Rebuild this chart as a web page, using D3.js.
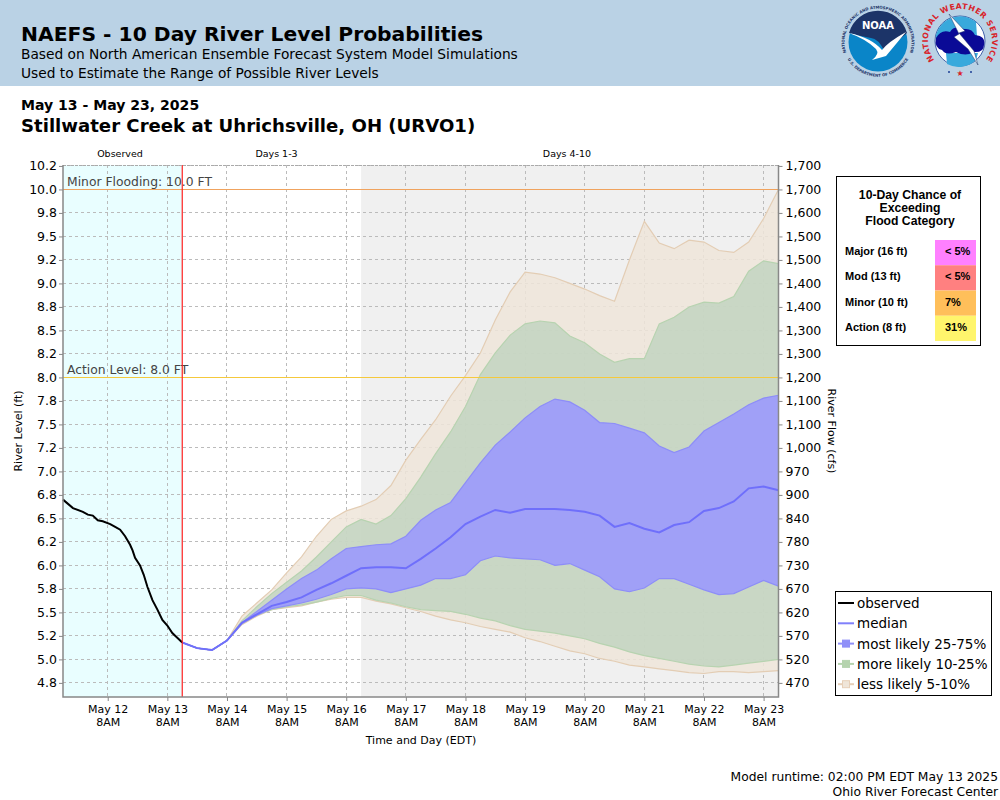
<!DOCTYPE html>
<html>
<head>
<meta charset="utf-8">
<script src="https://cdn.jsdelivr.net/npm/d3@7"></script>
<style>
    html, body { margin: 0; padding: 0; background: #fff; }
    svg { display: block; }
    text { font-family: "DejaVu Sans", sans-serif; fill: #000; }
    .arial text, text.arial { font-family: "Liberation Sans", sans-serif; font-weight: bold; }
    .domain { display: none; }
</style>
</head>
<body>
<svg id="chart" width="1000" height="800"></svg>
<script>
// level ticks every quarter foot, the labels are rounded the way the original prints them
const levelTicks = [10.25, 10, 9.75, 9.5, 9.25, 9, 8.75, 8.5, 8.25, 8, 7.75, 7.5, 7.25, 7, 6.75, 6.5, 6.25, 6, 5.75, 5.5, 5.25, 5, 4.75];
const levelLabels = ["10.2", "10.0", "9.8", "9.5", "9.2", "9.0", "8.8", "8.5", "8.2", "8.0", "7.8", "7.5", "7.2", "7.0", "6.8", "6.5", "6.2", "6.0", "5.8", "5.5", "5.2", "5.0", "4.8"];
const flowLabels = ["1,700", "1,700", "1,600", "1,500", "1,500", "1,400", "1,400", "1,300", "1,300", "1,200", "1,100", "1,100", "1,000", "970", "900", "840", "780", "730", "670", "620", "570", "520", "470"];
const dayLabels = ["May 12", "May 13", "May 14", "May 15", "May 16", "May 17", "May 18", "May 19", "May 20", "May 21", "May 22", "May 23"];

// observed: hours after May 11 14:00
const observedHours = [0, 4, 8, 10, 12, 14, 16, 19, 21, 23, 25, 27, 28, 29, 31, 32.5, 34, 36, 38, 40, 42, 44, 46, 48];
const observedLevels = [6.70, 6.61, 6.57, 6.54, 6.53, 6.48, 6.47, 6.44, 6.41, 6.38, 6.31, 6.22, 6.16, 6.08, 6.00, 5.90, 5.77, 5.63, 5.53, 5.42, 5.36, 5.28, 5.23, 5.18];

// forecast: one value every 6 hours from May 13 14:00
const median = [5.18, 5.12, 5.10, 5.20, 5.39, 5.48, 5.57, 5.61, 5.66, 5.74, 5.81, 5.89, 5.97, 5.98, 5.98, 5.97, 6.07, 6.18, 6.30, 6.44, 6.52, 6.59, 6.56, 6.60, 6.60, 6.60, 6.59, 6.57, 6.53, 6.41, 6.45, 6.39, 6.35, 6.43, 6.46, 6.58, 6.61, 6.68, 6.82, 6.84, 6.80];
const p25 = [5.18, 5.12, 5.10, 5.20, 5.38, 5.47, 5.54, 5.57, 5.60, 5.64, 5.69, 5.75, 5.76, 5.75, 5.71, 5.75, 5.79, 5.86, 5.86, 5.90, 6.05, 6.10, 6.08, 6.07, 6.06, 6.00, 6.02, 5.95, 5.88, 5.75, 5.72, 5.76, 5.86, 5.86, 5.80, 5.74, 5.69, 5.70, 5.77, 5.84, 5.78];
const p75 = [5.18, 5.12, 5.10, 5.20, 5.39, 5.51, 5.63, 5.75, 5.86, 5.95, 6.07, 6.18, 6.20, 6.22, 6.23, 6.31, 6.48, 6.59, 6.67, 6.88, 7.09, 7.28, 7.42, 7.57, 7.69, 7.77, 7.74, 7.65, 7.52, 7.51, 7.46, 7.41, 7.27, 7.20, 7.26, 7.43, 7.52, 7.61, 7.71, 7.78, 7.81];
const p10 = [5.18, 5.12, 5.10, 5.20, 5.38, 5.47, 5.53, 5.56, 5.58, 5.61, 5.65, 5.68, 5.68, 5.63, 5.60, 5.56, 5.53, 5.52, 5.51, 5.48, 5.44, 5.41, 5.36, 5.32, 5.30, 5.28, 5.25, 5.22, 5.17, 5.13, 5.08, 5.04, 5.01, 4.98, 4.95, 4.93, 4.92, 4.94, 4.96, 4.98, 5.00];
const p90 = [5.18, 5.12, 5.10, 5.20, 5.41, 5.56, 5.70, 5.82, 5.94, 6.09, 6.25, 6.41, 6.49, 6.44, 6.53, 6.71, 6.94, 7.19, 7.42, 7.69, 8.03, 8.26, 8.45, 8.57, 8.60, 8.58, 8.44, 8.37, 8.25, 8.16, 8.20, 8.20, 8.57, 8.64, 8.75, 8.80, 8.79, 8.86, 9.13, 9.24, 9.21];
const p5 = [5.18, 5.12, 5.10, 5.20, 5.37, 5.46, 5.53, 5.55, 5.57, 5.61, 5.64, 5.66, 5.66, 5.62, 5.59, 5.55, 5.51, 5.46, 5.42, 5.39, 5.35, 5.32, 5.29, 5.23, 5.19, 5.14, 5.09, 5.06, 5.01, 4.98, 4.94, 4.92, 4.90, 4.88, 4.86, 4.85, 4.87, 4.87, 4.86, 4.87, 4.88];
const p95 = [5.18, 5.12, 5.10, 5.20, 5.46, 5.60, 5.74, 5.92, 6.09, 6.31, 6.49, 6.58, 6.63, 6.70, 6.85, 7.12, 7.34, 7.55, 7.80, 8.02, 8.26, 8.61, 8.91, 9.12, 9.10, 9.06, 9.00, 8.94, 8.87, 8.81, 9.25, 9.66, 9.43, 9.37, 9.46, 9.44, 9.35, 9.33, 9.44, 9.69, 10.00];

const chanceRows = ["Major (16 ft)", "Mod (13 ft)", "Minor (10 ft)", "Action (8 ft)"];
const chanceValues = ["< 5%", "< 5%", "7%", "31%"];
const chanceColors = ["#ff80ff", "#ff8080", "#ffbf5a", "#fff56c"];

const svg = d3.select("#chart");

const plotLeft = 63, plotRight = 778.5, plotTop = 165, plotBottom = 697;
const startTime = new Date(Date.UTC(2025, 4, 11, 14));
const nowTime = new Date(Date.UTC(2025, 4, 13, 14));
const endTime = new Date(Date.UTC(2025, 4, 23, 14));
const day4Time = new Date(Date.UTC(2025, 4, 16, 14));

const x = d3.scaleUtc().domain([startTime, endTime]).range([plotLeft, plotRight]);
const y = d3.scaleLinear().domain([4.6, 10.26]).range([plotBottom, plotTop]);

// keep one pixel lines sharp
const crisp = v => Math.floor(v) + 0.5;

const forecastTimes = median.map((d, i) => d3.utcHour.offset(nowTime, i * 6));
const observedTimes = observedHours.map(h => d3.utcMinute.offset(startTime, h * 60));
const dayTicks = dayLabels.map((d, i) => new Date(Date.UTC(2025, 4, 12 + i, 8)));

// header
svg.append("rect").attr("width", 1000).attr("height", 86).attr("fill", "#bad2e5");
svg.append("text").attr("x", 21).attr("y", 41).attr("font-size", 20.3).attr("font-weight", "bold").text("NAEFS - 10 Day River Level Probabilities");
svg.append("text").attr("x", 21).attr("y", 59).attr("font-size", 13.75).text("Based on North American Ensemble Forecast System Model Simulations");
svg.append("text").attr("x", 21).attr("y", 78).attr("font-size", 13.75).text("Used to Estimate the Range of Possible River Levels");
svg.append("text").attr("x", 21).attr("y", 110).attr("font-size", 14.05).attr("font-weight", "bold").text("May 13 - May 23, 2025");
svg.append("text").attr("x", 21).attr("y", 132).attr("font-size", 18.1).attr("font-weight", "bold").text("Stillwater Creek at Uhrichsville, OH (URVO1)");

drawNoaa(878, 42);
drawNws(960, 41);

// plot backgrounds
svg.append("rect").attr("x", plotLeft).attr("y", plotTop).attr("width", x(nowTime) - plotLeft).attr("height", plotBottom - plotTop).attr("fill", "#e9feff");
svg.append("rect").attr("x", x(day4Time)).attr("y", plotTop).attr("width", plotRight - x(day4Time)).attr("height", plotBottom - plotTop).attr("fill", "#f0f0f0");

// grid
const grid = svg.append("g").attr("stroke", "#bbb").attr("stroke-dasharray", "3,3").attr("fill", "none");
grid.selectAll(".gy").data(levelTicks).join("line")
    .attr("x1", plotLeft).attr("x2", plotRight)
    .attr("y1", d => crisp(y(d))).attr("y2", d => crisp(y(d)));
grid.selectAll(".gx").data(dayTicks).join("line")
    .attr("x1", d => crisp(x(d))).attr("x2", d => crisp(x(d)))
    .attr("y1", plotTop).attr("y2", plotBottom);

// probability bands
const band = (lo, hi) => d3.area()
    .x((d, i) => x(forecastTimes[i]))
    .y0((d, i) => y(lo[i]))
    .y1((d, i) => y(hi[i]))(median);

const edge = (values) => d3.line()
    .x((d, i) => x(forecastTimes[i]))
    .y(d => y(d))(values);

const bands = [
    { lo: p5, hi: p95, fill: "#efe5d9", opacity: 0.85, stroke: "#e3cdb4" },
    { lo: p10, hi: p90, fill: "#b9d0ba", opacity: 0.7, stroke: "#b7d3b0" },
    { lo: p25, hi: p75, fill: "#9996ff", opacity: 0.85, stroke: "#8d8df8" }
];
bands.forEach(b => {
    svg.append("path").attr("d", band(b.lo, b.hi)).attr("fill", b.fill).attr("fill-opacity", b.opacity);
    svg.append("path").attr("d", edge(b.lo)).attr("fill", "none").attr("stroke", b.stroke).attr("stroke-width", 1.2);
    svg.append("path").attr("d", edge(b.hi)).attr("fill", "none").attr("stroke", b.stroke).attr("stroke-width", 1.2);
});

// flood levels
svg.append("line").attr("x1", plotLeft).attr("x2", plotRight).attr("y1", crisp(y(10))).attr("y2", crisp(y(10))).attr("stroke", "#f0a35e");
svg.append("line").attr("x1", plotLeft).attr("x2", plotRight).attr("y1", crisp(y(8))).attr("y2", crisp(y(8))).attr("stroke", "#f5c93c");
svg.append("text").attr("x", 67).attr("y", y(10) - 3).attr("font-size", 12.35).style("fill", "#444").text("Minor Flooding: 10.0 FT");
svg.append("text").attr("x", 67).attr("y", y(8) - 3).attr("font-size", 12.35).style("fill", "#444").text("Action Level: 8.0 FT");

// series lines
svg.append("path").attr("d", edge(median)).attr("fill", "none").attr("stroke", "#6f6ffb").attr("stroke-width", 2);
svg.append("path")
    .attr("d", d3.line().x((d, i) => x(observedTimes[i])).y(d => y(d))(observedLevels))
    .attr("fill", "none").attr("stroke", "#000").attr("stroke-width", 2);

// current time marker
svg.append("line").attr("x1", x(nowTime)).attr("x2", x(nowTime)).attr("y1", plotTop).attr("y2", plotBottom).attr("stroke", "#ff2020").attr("stroke-width", 1.2);

// axes
const axisLeft = d3.axisLeft(y).tickValues(levelTicks).tickSize(4).tickPadding(2).tickFormat((d, i) => levelLabels[i]);
const axisRight = d3.axisRight(y).tickValues(levelTicks).tickSize(4).tickPadding(3).tickFormat((d, i) => flowLabels[i]);
const axisBottom = d3.axisBottom(x).tickValues(dayTicks).tickSize(4).tickPadding(4).tickFormat((d, i) => dayLabels[i]);

const gl = svg.append("g").attr("transform", `translate(${plotLeft},0)`).call(axisLeft);
const gr = svg.append("g").attr("transform", `translate(${plotRight},0)`).call(axisRight);
const gb = svg.append("g").attr("transform", `translate(0,${plotBottom})`).call(axisBottom);
[gl, gr, gb].forEach(g => {
    g.attr("font-family", null);
    g.selectAll("text").attr("font-size", 12.5);
    g.selectAll("line").attr("stroke", "#888");
});
gb.selectAll("text").attr("font-size", 11);
gb.selectAll(".tick").append("text").attr("y", 21).attr("dy", "0.71em").attr("font-size", 11).attr("text-anchor", "middle").text("8AM");

// frame
svg.append("line").attr("x1", plotLeft).attr("x2", plotRight).attr("y1", plotTop + 0.5).attr("y2", plotTop + 0.5).attr("stroke", "#aaa").attr("stroke-dasharray", "3,1");
svg.append("path").attr("d", `M${plotLeft},${plotTop}V${plotBottom}H${plotRight}V${plotTop}`).attr("fill", "none").attr("stroke", "#888").attr("stroke-width", 1.5);

// period labels
svg.append("text").attr("x", 120).attr("y", 157).attr("font-size", 9.5).attr("text-anchor", "middle").text("Observed");
svg.append("text").attr("x", 276.5).attr("y", 157).attr("font-size", 9.5).attr("text-anchor", "middle").text("Days 1-3");
svg.append("text").attr("x", 567).attr("y", 157).attr("font-size", 9.5).attr("text-anchor", "middle").text("Days 4-10");

// axis titles
svg.append("text").attr("transform", "translate(22,431) rotate(-90)").attr("font-size", 11).attr("text-anchor", "middle").text("River Level (ft)");
svg.append("text").attr("transform", "translate(828,431) rotate(90)").attr("font-size", 11).attr("text-anchor", "middle").text("River Flow (cfs)");
svg.append("text").attr("x", 421).attr("y", 744).attr("font-size", 11).attr("text-anchor", "middle").text("Time and Day (EDT)");

// footer
svg.append("text").attr("x", 998).attr("y", 780.5).attr("font-size", 12.3).attr("text-anchor", "end").text("Model runtime: 02:00 PM EDT May 13 2025");
svg.append("text").attr("x", 998).attr("y", 795.5).attr("font-size", 12.3).attr("text-anchor", "end").text("Ohio River Forecast Center");

// chance table
const table = svg.append("g").attr("class", "arial");
table.append("rect").attr("x", 836.5).attr("y", 176.5).attr("width", 144).attr("height", 169).attr("fill", "#fff").attr("stroke", "#000");
["10-Day Chance of", "Exceeding", "Flood Category"].forEach((t, i) => {
    table.append("text").attr("x", 910).attr("y", 199 + i * 13).attr("font-size", 12.2).attr("text-anchor", "middle").text(t);
});
const rowY = d3.scaleBand().domain(chanceRows).range([240, 341]);
chanceRows.forEach((r, i) => {
    table.append("rect").attr("x", 935).attr("y", rowY(r)).attr("width", 41).attr("height", rowY.bandwidth()).attr("fill", chanceColors[i]);
    table.append("text").attr("x", 845).attr("y", rowY(r) + 15).attr("font-size", 11).text(r);
    table.append("text").attr("x", 945).attr("y", rowY(r) + 15).attr("font-size", 11).text(chanceValues[i]);
});

// legend
const legendRows = [
    { label: "observed", color: "#000", width: 2 },
    { label: "median", color: "#8080fb", width: 2 },
    { label: "most likely 25-75%", color: "#8f8ff8", width: 2, box: "#9090f8" },
    { label: "more likely 10-25%", color: "#b5d3ae", width: 2, box: "#b5d3ae" },
    { label: "less likely 5-10%", color: "#e6cfb8", width: 2, box: "#efe5d9" }
];
const legend = svg.append("g");
legend.append("rect").attr("x", 835.5).attr("y", 591.5).attr("width", 156).attr("height", 104).attr("fill", "#fff").attr("stroke", "#000");
legendRows.forEach((r, i) => {
    const ly = 603 + i * 20.3;
    legend.append("line").attr("x1", 838).attr("x2", 854).attr("y1", ly).attr("y2", ly).attr("stroke", r.color).attr("stroke-width", r.width);
    if (r.box) {
        legend.append("rect").attr("x", 842.5).attr("y", ly - 3.5).attr("width", 7).attr("height", 7).attr("fill", r.box).attr("stroke", r.color);
    }
    legend.append("text").attr("x", 857).attr("y", ly + 5).attr("font-size", 13.5).text(r.label);
});

function ringText(g, id, d, label, size, color, spacing) {
    g.append("path").attr("id", id).attr("d", d).attr("fill", "none");
    g.append("text").attr("font-size", size).attr("text-anchor", "middle").attr("font-weight", "bold").attr("letter-spacing", spacing).style("fill", color)
        .append("textPath").attr("href", "#" + id).attr("startOffset", "50%").text(label);
}

function drawNoaa(cx, cy) {
    const g = svg.append("g").attr("transform", `translate(${cx},${cy})`);
    g.append("circle").attr("r", 29.5).attr("fill", "#0a85c8");
    g.append("path").attr("d", "M-29,-9A30,30 0 0 1 29,-9L7,10Q0,-4 -7,-4Q-18,-6 -29,-9Z").attr("fill", "#1c3468");
    g.append("path").attr("d", "M-29,-9Q-12,-3 -2,7Q2,12 -6,18L8,14L28,-10Q10,0 4,8Q-6,-4 -29,-9Z").attr("fill", "#fff");
    g.append("text").attr("y", -13).attr("font-size", 10).attr("font-weight", "bold").attr("text-anchor", "middle").style("fill", "#fff").text("NOAA");
    ringText(g, "noaaTop", "M-32,10A33.5,33.5 0 1 1 32,10", "NATIONAL OCEANIC AND ATMOSPHERIC ADMINISTRATION", 3.9, "#1c3468", 0);
    ringText(g, "noaaBottom", "M-31,16A35,35 0 0 0 31,16", "U.S. DEPARTMENT OF COMMERCE", 3.9, "#1c3468", 0);
}

function drawNws(cx, cy) {
    const g = svg.append("g").attr("transform", `translate(${cx},${cy})`);
    g.append("circle").attr("r", 25).attr("fill", "#fff").attr("stroke", "#1c3f94").attr("stroke-width", 0.8);
    g.append("path").attr("d", "M-24,-6A25,25 0 0 1 16,-19L18,10L-24,0Z").attr("fill", "#39a9dc");
    g.append("path").attr("d", "M-13,23A25,25 0 0 0 16,19L18,12L-14,12Z").attr("fill", "#39a9dc");
    g.append("path").attr("d", "M-24,-3Q-19,-12 -10,-9Q-6,-16 4,-12Q12,-13 15,-6Q26,-5 24,4Q24,12 13,11Q6,16 -4,11Q-14,15 -18,9Q-26,7 -24,-3Z").attr("fill", "#0a0a96");
    g.append("path").attr("d", "M-11,-27L5,-10L-1,-8L14,10L18,24L8,8L-6,-4L-1,-7Z").attr("fill", "#fff").attr("stroke", "#1c3468").attr("stroke-width", 0.5);
    ringText(g, "nwsTop", "M-22,23A32,32 0 1 1 22,23", "NATIONAL WEATHER SERVICE", 7.8, "#d8232a", 0.5);
    g.append("text").attr("y", 35).attr("font-size", 8).attr("text-anchor", "middle").style("fill", "#d8232a").text("★");
    g.append("circle").attr("cx", -11).attr("cy", 31).attr("r", 1).attr("fill", "#1c3f94");
    g.append("circle").attr("cx", 11).attr("cy", 31).attr("r", 1).attr("fill", "#1c3f94");
}
</script>
</body>
</html>
